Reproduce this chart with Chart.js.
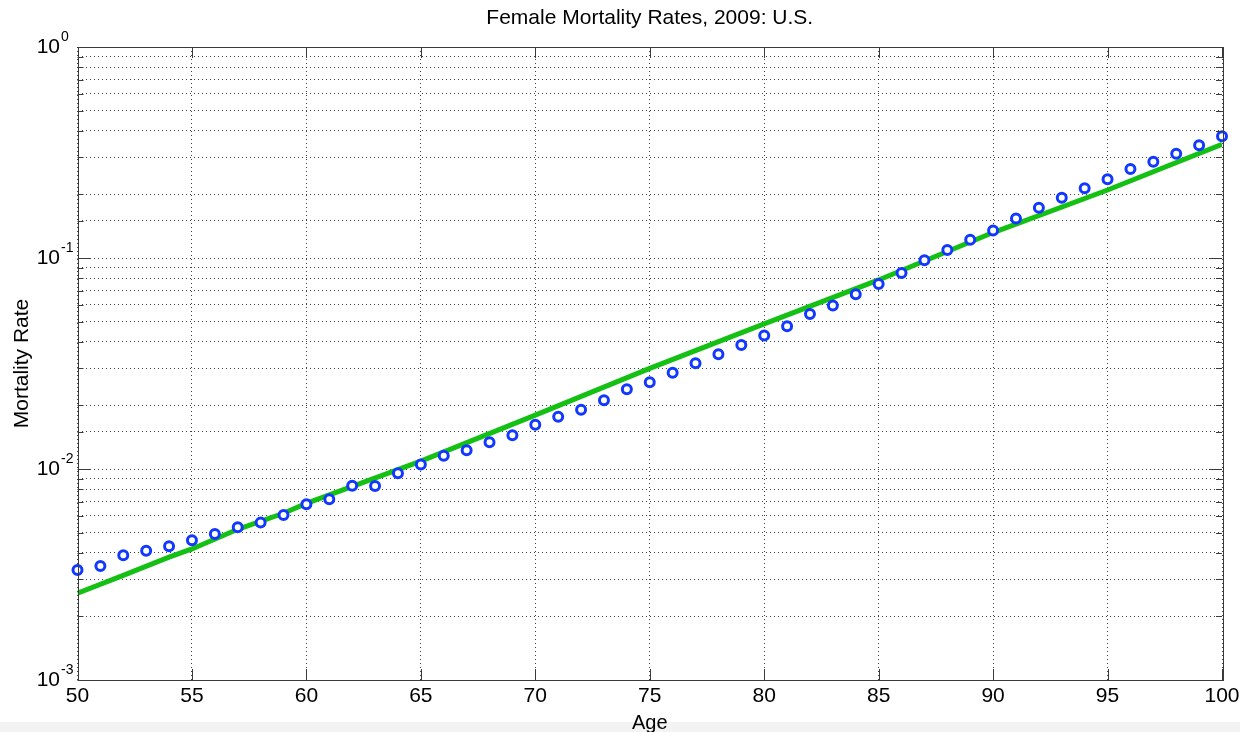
<!DOCTYPE html>
<html>
<head>
<meta charset="utf-8">
<script src="https://cdn.jsdelivr.net/npm/chart.js@4/dist/chart.umd.min.js"></script>
<style>
  html, body { margin: 0; padding: 0; background: #fff; }
  canvas { display: block; }
</style>
</head>
<body>
<canvas id="mortality" width="1240" height="732"></canvas>
<script>
// Observed female mortality rates by single year of age
const ages = [50, 51, 52, 53, 54, 55, 56, 57, 58, 59,
  60, 61, 62, 63, 64, 65, 66, 67, 68, 69,
  70, 71, 72, 73, 74, 75, 76, 77, 78, 79,
  80, 81, 82, 83, 84, 85, 86, 87, 88, 89,
  90, 91, 92, 93, 94, 95, 96, 97, 98, 99, 100];
const rates = [0.00332, 0.00347, 0.0039, 0.0041, 0.0043, 0.00459, 0.00492, 0.0053, 0.00557, 0.00605,
  0.00681, 0.00718, 0.00834, 0.0083, 0.00954, 0.0105, 0.01156, 0.01227, 0.0134, 0.01445,
  0.0162, 0.0177, 0.0191, 0.0212, 0.0239, 0.0258, 0.0286, 0.0317, 0.035, 0.0387,
  0.0429, 0.0475, 0.0543, 0.0596, 0.0674, 0.0753, 0.0849, 0.0975, 0.109, 0.122,
  0.135, 0.154, 0.173, 0.193, 0.214, 0.236, 0.264, 0.286, 0.312, 0.342, 0.378];

// Fitted curve
const fitAges = [50, 52, 54, 55, 57, 59, 60, 65, 70, 75, 80, 85, 90, 95, 100];
const fitRates = [0.00258, 0.00313, 0.00382, 0.00418, 0.00518, 0.00617, 0.00687, 0.0109, 0.018, 0.03, 0.0487, 0.0787, 0.132, 0.21, 0.346];

const xTicks = [50, 55, 60, 65, 70, 75, 80, 85, 90, 95, 100];
const yExponents = [0, -1, -2, -3];

const FONT = '"Liberation Sans", Arial, Helvetica, sans-serif';

// MATLAB-style axes: box, inward ticks, superscript decade labels
const axesBox = {
  id: 'axesBox',
  beforeDraw(chart) {
    const ctx = chart.ctx;
    ctx.save();
    ctx.fillStyle = '#fff';
    ctx.fillRect(0, 0, chart.width, chart.height);
    ctx.fillStyle = '#f3f3f3';
    ctx.fillRect(0, 722, chart.width, chart.height - 722);
    ctx.restore();
  },
  afterDraw(chart) {
    const { ctx, chartArea: a, scales: { x, y } } = chart;
    ctx.save();
    ctx.strokeStyle = '#3a3a3a';
    ctx.lineWidth = 1;
    ctx.beginPath();
    xTicks.forEach(v => {
      const px = Math.round(x.getPixelForValue(v)) + 0.5;
      ctx.moveTo(px, a.bottom); ctx.lineTo(px, a.bottom - 11);
      ctx.moveTo(px, a.top); ctx.lineTo(px, a.top + 11);
    });
    y.ticks.forEach(t => {
      const major = Math.abs(Math.log10(t.value) - Math.round(Math.log10(t.value))) < 1e-6;
      const len = major ? 13 : 6;
      const py = Math.round(y.getPixelForValue(t.value)) + 0.5;
      ctx.moveTo(a.left, py); ctx.lineTo(a.left + len, py);
      ctx.moveTo(a.right, py); ctx.lineTo(a.right - len, py);
    });
    ctx.stroke();
    ctx.strokeRect(Math.round(a.left) + 0.5, Math.round(a.top) + 0.5,
      Math.round(a.right - a.left), Math.round(a.bottom - a.top));

    ctx.fillStyle = '#000';
    ctx.textBaseline = 'middle';
    yExponents.forEach(e => {
      const py = y.getPixelForValue(Math.pow(10, e));
      ctx.font = '21px ' + FONT;
      ctx.textAlign = 'right';
      ctx.fillText('10', 60, py);
      ctx.font = '14px ' + FONT;
      ctx.textAlign = 'left';
      ctx.fillText(String(e), 61, py - 10);
    });
    ctx.restore();
  }
};

const ctx = document.getElementById('mortality').getContext('2d');
new Chart(ctx, {
  type: 'scatter',
  data: {
    datasets: [{
      label: 'Observed',
      data: ages.map((a, i) => ({ x: a, y: rates[i] })),
      showLine: false,
      pointStyle: 'circle',
      pointRadius: 4.5,
      pointBorderWidth: 3,
      pointBackgroundColor: '#fff',
      pointBorderColor: '#1238ff',
      clip: false,
      order: 0
    }, {
      label: 'Fit',
      data: fitAges.map((a, i) => ({ x: a, y: fitRates[i] })),
      showLine: true,
      borderColor: '#14c014',
      borderWidth: 5,
      pointRadius: 0,
      tension: 0,
      order: 1
    }]
  },
  options: {
    responsive: false,
    animation: false,
    devicePixelRatio: 1,
    layout: { padding: { top: 0, right: 18, bottom: 0, left: 0 } },
    plugins: {
      legend: { display: false },
      tooltip: { enabled: false },
      title: {
        display: true,
        fullSize: false,
        text: 'Female Mortality Rates, 2009: U.S.',
        color: '#000',
        font: { family: FONT, size: 21, weight: 'normal' },
        padding: { top: 6, bottom: 15.8 }
      }
    },
    scales: {
      x: {
        type: 'linear',
        min: 50,
        max: 100,
        afterBuildTicks: s => { s.ticks = xTicks.map(v => ({ value: v })); },
        afterFit: s => { s.height = 52; s.paddingLeft = 0; s.paddingRight = 0; },
        ticks: {
          color: '#000',
          font: { family: FONT, size: 21 },
          padding: 4,
          maxRotation: 0
        },
        grid: { color: 'rgba(0,0,0,0.75)', lineWidth: 1, drawTicks: false },
        border: { display: false, dash: [1, 3] },
        title: {
          display: true,
          text: 'Age',
          color: '#000',
          font: { family: FONT, size: 20 },
          padding: { top: 0, bottom: -3 }
        }
      },
      y: {
        type: 'logarithmic',
        min: 0.001,
        max: 1,
        afterFit: s => { s.width = 77.5; },
        ticks: { display: false, autoSkip: false },
        grid: { color: 'rgba(0,0,0,0.75)', lineWidth: 1, drawTicks: false },
        border: { display: false, dash: [1, 3] },
        title: {
          display: true,
          text: 'Mortality Rate',
          color: '#000',
          font: { family: FONT, size: 21 },
          padding: { top: 10, bottom: 0 }
        }
      }
    }
  },
  plugins: [axesBox]
});
</script>
</body>
</html>
